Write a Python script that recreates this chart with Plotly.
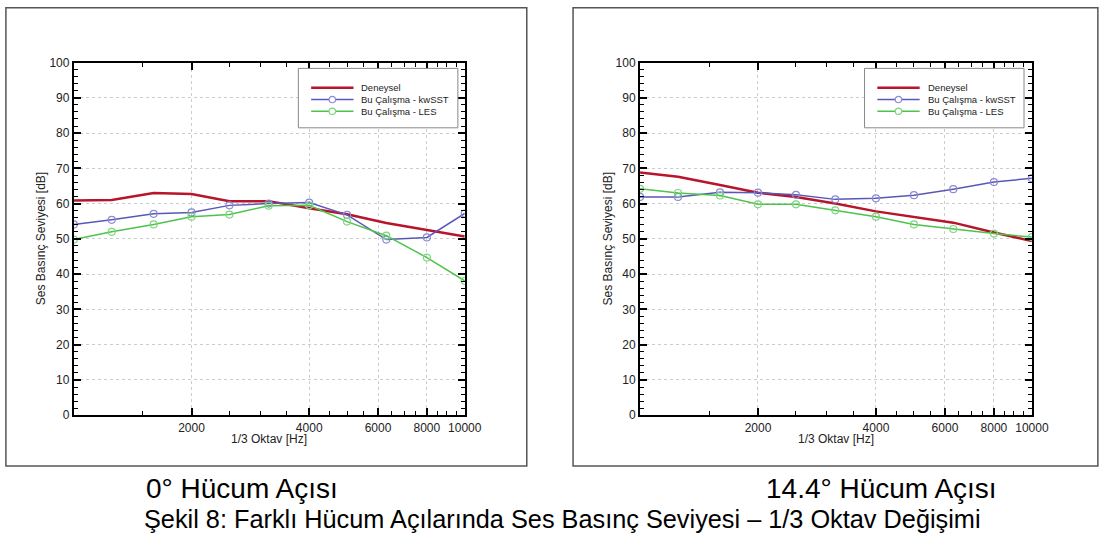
import plotly.graph_objects as go

W, H = 1107, 544

freqs = [1000, 1250, 1600, 2000, 2500, 3150, 4000, 5000, 6300, 8000, 10000]

deneysel_0 = [60.9, 61.0, 63.0, 62.7, 60.7, 60.7, 58.7, 57.0, 54.5, 52.6, 50.7]
kwsst_0 = [54.1, 55.4, 57.1, 57.5, 59.5, 60.0, 60.3, 56.8, 49.8, 50.4, 57.2]
les_0 = [49.8, 52.0, 54.1, 56.3, 56.9, 59.4, 59.5, 54.9, 50.9, 44.7, 38.1]

deneysel_14 = [68.8, 67.6, 65.3, 63.1, 61.9, 60.0, 57.8, 56.2, 54.6, 51.8, 49.4]
kwsst_14 = [61.9, 61.9, 63.2, 63.1, 62.5, 61.2, 61.5, 62.4, 64.1, 66.1, 67.2]
les_14 = [64.2, 63.0, 62.3, 59.8, 59.8, 58.1, 56.3, 54.1, 52.8, 51.5, 50.5]

series_names = ["Deneysel", "Bu Çalışma - kwSST", "Bu Çalışma - LES"]
x_major = [2000, 4000, 6000, 8000, 10000]
x_major_text = ["2000", "4000", "6000", "8000", "10000"]
x_minor = [1500, 2500, 3000, 3500, 4500, 5000, 5500, 6500, 7000, 7500, 8500, 9000, 9500]
y_ticks = [0, 10, 20, 30, 40, 50, 60, 70, 80, 90, 100]

panel_captions = ["0° Hücum Açısı", "14.4° Hücum Açısı"]
figure_caption = "Şekil 8: Farklı Hücum Açılarında Ses Basınç Seviyesi – 1/3 Oktav Değişimi"
x_title = "1/3 Oktav [Hz]"
y_title = "Ses Basınç Seviyesi [dB]"

FONT = "Liberation Sans, Arial, sans-serif"
RED, BLUE, GREEN = "#b8142a", "#5858b8", "#4cc44c"
BLUE_M, GREEN_M = "#8a8ad6", "#7ed67e"
series_colors = [RED, BLUE, GREEN]
marker_colors = [None, BLUE_M, GREEN_M]
line_widths = [2.5, 1.5, 1.5]


def px(x):
    return x / W


def py(y):
    return 1 - y / H


fig = go.Figure()

panels = [
    (deneysel_0, kwsst_0, les_0, "x", "y"),
    (deneysel_14, kwsst_14, les_14, "x2", "y2"),
]
for den, kw, les, xa, ya in panels:
    for i, vals in enumerate([den, kw, les]):
        if i == 0:
            fig.add_trace(go.Scatter(x=freqs, y=vals, mode="lines", name=series_names[i],
                                     line=dict(color=series_colors[i], width=line_widths[i]),
                                     xaxis=xa, yaxis=ya, showlegend=False))
        else:
            fig.add_trace(go.Scatter(x=freqs, y=vals, mode="lines+markers", name=series_names[i],
                                     line=dict(color=series_colors[i], width=line_widths[i]),
                                     marker=dict(symbol="circle-open", size=7, color=marker_colors[i],
                                                 line=dict(width=1.2)),
                                     xaxis=xa, yaxis=ya, showlegend=False))

common_x = dict(
    type="log", range=[3, 4], tickvals=x_major, ticktext=x_major_text,
    ticks="inside", ticklen=7, tickwidth=2, tickcolor="black",
    showline=True, linewidth=2, linecolor="black", mirror="allticks",
    showgrid=True, gridcolor="#cccccc", griddash="dot", gridwidth=1,
    zeroline=False, tickfont=dict(family=FONT, size=12, color="#222"),
    minor=dict(tickvals=x_minor, ticks="inside", ticklen=4, tickwidth=1,
               tickcolor="black", showgrid=False),
)
common_y = dict(
    range=[0, 100], tickvals=y_ticks,
    ticks="inside", ticklen=7, tickwidth=2, tickcolor="black",
    showline=True, linewidth=2, linecolor="black", mirror="allticks",
    showgrid=True, gridcolor="#cccccc", griddash="dot", gridwidth=1,
    zeroline=False, tickfont=dict(family=FONT, size=12, color="#222"),
    minor=dict(dtick=2, ticks="inside", ticklen=4, tickwidth=1,
               tickcolor="black", showgrid=False),
)

ydom = [py(419), py(57)]
fig.update_layout(
    xaxis=dict(domain=[px(75), px(472)], anchor="y", **common_x),
    yaxis=dict(domain=ydom, anchor="x", **common_y),
    xaxis2=dict(domain=[px(650), px(1048)], anchor="y2", **common_x),
    yaxis2=dict(domain=ydom, anchor="x2", **common_y),
)

shapes = []
annotations = []

# outer frames around each panel
for x0, x1 in [(6, 535), (582, 1115)]:
    shapes.append(dict(type="rect", xref="paper", yref="paper",
                       x0=px(x0), x1=px(x1), y0=py(471), y1=py(0.8),
                       line=dict(color="#555555", width=1.5), layer="below"))

# legend boxes (drawn in each panel's upper right corner)
legend_rows = [83, 95, 107]
for lx in [303, 878]:
    shapes.append(dict(type="rect", xref="paper", yref="paper",
                       x0=px(lx), x1=px(lx + 162), y0=py(124), y1=py(63),
                       line=dict(color="#8a8a8a", width=1), fillcolor="white", layer="above"))
    for i, ry in enumerate(legend_rows):
        shapes.append(dict(type="line", xref="paper", yref="paper",
                           x0=px(lx + 13), x1=px(lx + 56), y0=py(ry), y1=py(ry),
                           line=dict(color=series_colors[i], width=line_widths[i]), layer="above"))
        if marker_colors[i]:
            cx = lx + 34.5
            shapes.append(dict(type="circle", xref="paper", yref="paper",
                               x0=px(cx - 3.3), x1=px(cx + 3.3), y0=py(ry + 3.3), y1=py(ry - 3.3),
                               line=dict(color=marker_colors[i], width=1.2), fillcolor="white",
                               layer="above"))
        annotations.append(dict(text=series_names[i], x=px(lx + 62), y=py(ry),
                                xref="paper", yref="paper", showarrow=False,
                                xanchor="left", yanchor="middle",
                                font=dict(family=FONT, size=9.5, color="#222")))

for cx in [(75 + 472) / 2, (650 + 1048) / 2]:
    annotations.append(dict(text=x_title, x=px(cx), y=py(443), xref="paper", yref="paper",
                            showarrow=False, xanchor="center", yanchor="middle",
                            font=dict(family=FONT, size=12, color="#222")))
for cx in [42, 617]:
    annotations.append(dict(text=y_title, x=px(cx), y=py(238), xref="paper", yref="paper",
                            showarrow=False, xanchor="center", yanchor="middle", textangle=-90,
                            font=dict(family=FONT, size=12, color="#222")))
for cap, cx in zip(panel_captions, [246, 895]):
    annotations.append(dict(text=cap, x=px(cx), y=py(494), xref="paper", yref="paper",
                            showarrow=False, xanchor="center", yanchor="middle",
                            font=dict(family=FONT, size=28, color="black")))
annotations.append(dict(text=figure_caption, x=px(571), y=py(526), xref="paper", yref="paper",
                        showarrow=False, xanchor="center", yanchor="middle",
                        font=dict(family=FONT, size=25.3, color="black")))

fig.update_layout(
    width=W, height=H, margin=dict(l=0, r=0, t=0, b=0),
    paper_bgcolor="white", plot_bgcolor="white",
    shapes=shapes, annotations=annotations, showlegend=False,
)

fig.write_html("out.html")
